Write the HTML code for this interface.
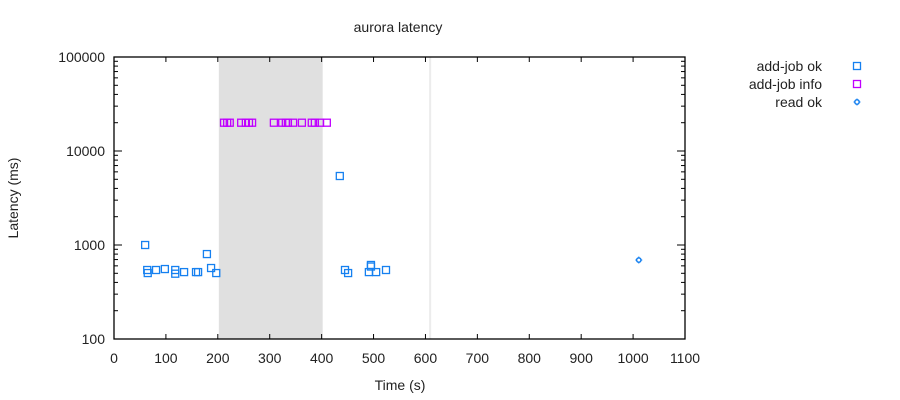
<!DOCTYPE html>
<html><head><meta charset="utf-8"><style>
body{margin:0;background:#fff;}
svg{display:block;font-family:"Liberation Sans",sans-serif;}
</style></head><body>
<svg id="chart" width="900" height="400"></svg>
<script>
const addOkT=[60,64,65,81,98,118,118,135,158,162,179,187,197,435,445,451,491,495,495,505,524];
const addOkV=[1000,542,503,542,555,542,495,515,515,515,801,569,503,5420,542,503,515,613,590,515,542];
const addInfoT=[212,218,223,245,254,260,266,308,324,331,335,345,362,381,387,397,410];
const addInfoV=[20000,20000,20000,20000,20000,20000,20000,20000,20000,20000,20000,20000,20000,20000,20000,20000,20000];
const readOkT=[1011];
const readOkV=[692];
const xTicks=[0,100,200,300,400,500,600,700,800,900,1000,1100];
const yTicks=[100,1000,10000,100000];
const shadeRange=[202,402];
const markerLine=[609];

const L=114,R=685,T=57,B=339;
const sx=t=>L+t*(R-L)/1100;
const sy=v=>B-(Math.log10(v)-2)*(B-T)/3;
const NS="http://www.w3.org/2000/svg";
const svg=document.getElementById('chart');
function mk(tag,attrs,parent){const e=document.createElementNS(NS,tag);for(const k in attrs)e.setAttribute(k,attrs[k]);(parent||svg).appendChild(e);return e;}

let sh=mk('rect',{x:sx(shadeRange[0]),y:T,width:sx(shadeRange[1])-sx(shadeRange[0]),height:B-T,fill:'#e0e0e0'});


let vl=mk('line',{x1:sx(markerLine[0]),x2:sx(markerLine[0]),y1:T,y2:B,stroke:'#ececec','stroke-width':2});



let frame=mk('rect',{x:L,y:T,width:R-L,height:B-T,fill:'none',stroke:'#000','stroke-width':1.3});



xTicks.forEach(t=>{
  const x=sx(t);
  mk('line',{x1:x,x2:x,y1:B,y2:B-5,stroke:'#000'});
  mk('line',{x1:x,x2:x,y1:T,y2:T+5,stroke:'#000'});
  let tx=mk('text',{x:x,y:B+24,'text-anchor':'middle','font-size':14,fill:'#222'});
  tx.textContent=t;
  
  
});
yTicks.forEach((v,i)=>{
  const y=sy(v);
  mk('line',{x1:L,x2:L+8,y1:y,y2:y,stroke:'#000'});
  mk('line',{x1:R,x2:R-8,y1:y,y2:y,stroke:'#000'});
  let tx=mk('text',{x:L-9,y:y+5,'text-anchor':'end','font-size':14,fill:'#222'});
  tx.textContent=v;
  
  
  if(i<yTicks.length-1){for(let m=2;m<=9;m++){const ym=sy(v*m);
    mk('line',{x1:L,x2:L+4,y1:ym,y2:ym,stroke:'#000'});
    mk('line',{x1:R,x2:R-4,y1:ym,y2:ym,stroke:'#000'});}}
});

function sq(x,y,c,name){let r=mk('rect',{x:x-3.5,y:y-3.5,width:7,height:7,fill:'none',stroke:c,'stroke-width':1.3});
  
  }
function circ(x,y,c,name){
  mk('line',{x1:x-3.5,x2:x+3.5,y1:y,y2:y,stroke:c,'stroke-width':1});
  mk('line',{x1:x,x2:x,y1:y-3.5,y2:y+3.5,stroke:c,'stroke-width':1});
  let r=mk('circle',{cx:x,cy:y,r:2.2,fill:'#fff',stroke:c,'stroke-width':1.5});
  
  }

const BLUE='#1580f0',MAG='#c000ff';
addOkT.forEach((t,i)=>sq(sx(t),sy(addOkV[i]),BLUE,'add-job-ok-point'));
addInfoT.forEach((t,i)=>sq(sx(t),sy(addInfoV[i]),MAG,'add-job-info-point'));
readOkT.forEach((t,i)=>circ(sx(t),sy(readOkV[i]),BLUE,'read-ok-point'));

function txt(x,y,s,anchor,name,extra){let e=mk('text',Object.assign({x:x,y:y,'text-anchor':anchor,'font-size':14,fill:'#222'},extra||{}));e.textContent=s;
  
  return e;}
txt(398,32,'aurora latency','middle','chart-title');
txt(400,390,'Time (s)','middle','x-axis-title');
txt(18,198,'Latency (ms)','middle','y-axis-title',{transform:'rotate(-90 18 198)'});

const legend=[['add-job ok',BLUE,'sq'],['add-job info',MAG,'sq'],['read ok',BLUE,'c']];
legend.forEach((l,i)=>{const y=66+i*18;
  txt(822,y+5,l[0],'end','legend-entry');
  if(l[2]==='sq')sq(857,y,l[1],'legend-marker');else circ(857,y,l[1],'legend-marker');});
</script>
</body></html>
